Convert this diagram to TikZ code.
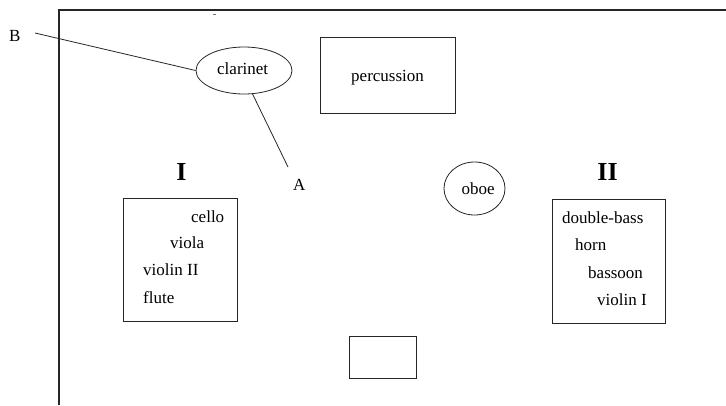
\documentclass[tikz,border=0pt]{standalone}
\usepackage{fontspec}
\setmainfont{Liberation Serif}
\usetikzlibrary{shapes.geometric}
\begin{document}
\begin{tikzpicture}[x=1pt,y=-1pt,
  every node/.style={font=\fontsize{17}{20}\selectfont},
  ln/.style={line width=0.8pt, draw=black!85},
  box/.style={ln, rectangle, inner sep=0pt},
  ell/.style={ln, ellipse, inner sep=0pt},
  lbl/.style={anchor=base west, inner sep=0pt},
  big/.style={font=\fontsize{26}{28}\selectfont\bfseries, inner sep=0pt}]
\useasboundingbox (0,0) rectangle (726,405);
% outer frame (clipped)
\draw[ln, line width=1.1pt] (59,405) -- (59,10) -- (726,10);
\draw[black!55, line width=1pt] (213,14.5) -- (215.5,14.5);
% clarinet
\node[ell, minimum width=96pt, minimum height=47pt] (clar) at (244,70.5) {};
\node[lbl] (clart) at (217,74) {clarinet};
\node[lbl] (B) at (9,41) {B};
\node[lbl] (A) at (293,190) {A};
\coordinate (bend) at (35,33);
\coordinate (aend) at (288,167);
\draw[ln] (bend) -- (clar.west);
\draw[ln] (clar.-70) -- (aend);
% percussion
\node[box, minimum width=135pt, minimum height=76pt] (perc) at (387.5,75) {};
\node[lbl] (perct) at (351,81) {percussion};
% oboe
\node[ell, minimum width=61pt, minimum height=53pt] (oboe) at (474.5,188.5) {};
\node[lbl] (oboet) at (461.5,194) {oboe};
% group I
\node[big] (gI) at (181.5,172) {I};
\node[box, minimum width=114pt, minimum height=123pt] (boxI) at (180,259.5) {};
\node[lbl] (cello) at (191,222) {cello};
\node[lbl] (viola) at (170,248) {viola};
\node[lbl] (vlnII) at (143,275) {violin II};
\node[lbl] (flute) at (143,303) {flute};
% group II
\node[big] (gII) at (607.5,172) {II};
\node[box, minimum width=113pt, minimum height=124pt] (boxII) at (608.5,261) {};
\node[lbl] (dbass) at (562,223) {double-bass};
\node[lbl] (horn) at (575,250) {horn};
\node[lbl] (bassoon) at (588,278) {bassoon};
\node[lbl] (vlnI) at (597,305) {violin I};
% small box
\node[box, minimum width=67pt, minimum height=42pt] (small) at (382.5,357) {};
\end{tikzpicture}
\end{document}
